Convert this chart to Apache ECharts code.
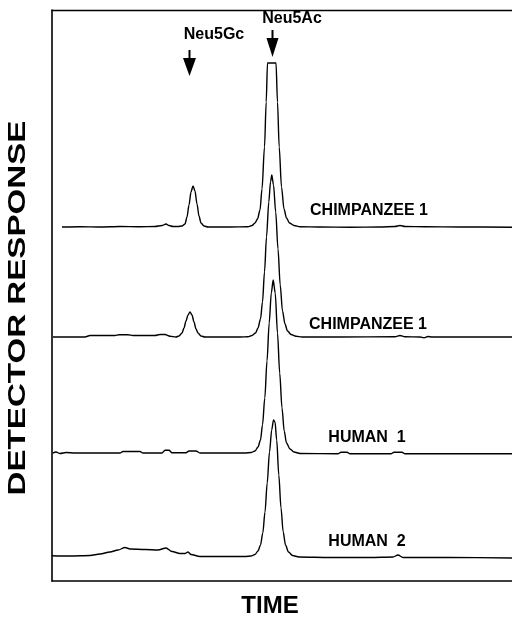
<!DOCTYPE html>
<html>
<head>
<meta charset="utf-8">
<script src="https://cdn.jsdelivr.net/npm/echarts@6/dist/echarts.min.js"></script>
<style>
  html, body { margin: 0; padding: 0; background: #fff; }
  #chart { width: 512px; height: 618px; }
</style>
</head>
<body>
<div id="chart"></div>
<script>
// 色谱图：时间 (t) / 检测器响应 (r)，四条叠放的曲线
const traceNames = ["CHIMPANZEE 1", "CHIMPANZEE 1", "HUMAN  1", "HUMAN  2"];

const chimp1a = [
  [1.0, 35.4], [2.8, 35.43], [4.8, 35.4], [6.8, 35.45], [8.8, 35.42], [10.3, 35.45],
  [11.0, 35.55], [11.4, 35.7], [11.7, 35.55], [12.1, 35.45], [12.6, 35.45], [13.0, 35.5],
  [13.3, 35.7], [13.5, 36.4], [13.7, 37.6], [13.9, 38.9], [14.1, 39.5], [14.3, 39.0],
  [14.5, 37.7], [14.7, 36.5], [14.9, 35.8], [15.2, 35.5], [15.6, 35.4], [17.8, 35.4],
  [19.6, 35.43], [20.0, 35.55], [20.3, 35.8], [20.55, 36.2], [20.8, 37.1], [21.0, 39.2],
  [21.25, 43.4], [21.42, 47.9], [21.55, 51.8], [22.4, 51.8], [22.55, 47.9], [22.72, 43.4],
  [22.95, 39.4], [23.2, 37.2], [23.45, 36.3], [23.75, 35.8], [24.2, 35.55], [24.8, 35.43],
  [26.8, 35.4], [29.8, 35.38], [32.8, 35.4], [34.3, 35.45], [34.8, 35.55], [35.3, 35.45],
  [37.3, 35.43], [40.8, 35.4], [46.0, 35.38]
];

const chimp1b = [
  [0.1, 24.4], [3.3, 24.4], [3.8, 24.55], [6.3, 24.55], [6.7, 24.63], [7.6, 24.63],
  [8.1, 24.55], [10.3, 24.55], [10.8, 24.65], [11.3, 24.65], [11.8, 24.48], [12.4, 24.4],
  [12.7, 24.5], [13.0, 24.8], [13.2, 25.3], [13.4, 26.0], [13.6, 26.6], [13.8, 26.9],
  [14.0, 26.6], [14.2, 25.9], [14.4, 25.2], [14.6, 24.8], [14.9, 24.5], [15.3, 24.4],
  [18.8, 24.4], [19.6, 24.43], [20.0, 24.55], [20.35, 24.8], [20.6, 25.3], [20.85, 26.2],
  [21.05, 27.9], [21.25, 30.9], [21.45, 34.4], [21.68, 37.9], [21.85, 39.9], [21.98, 40.6],
  [22.15, 39.6], [22.37, 36.9], [22.6, 33.2], [22.82, 29.6], [23.05, 27.0], [23.3, 25.7],
  [23.55, 25.0], [23.9, 24.65], [24.4, 24.48], [25.0, 24.4], [28.8, 24.4], [34.3, 24.43],
  [34.8, 24.55], [35.3, 24.43], [36.8, 24.4], [37.2, 24.32], [37.6, 24.45], [38.0, 24.4],
  [46.0, 24.4]
];

const human1 = [
  [0.1, 12.8], [0.4, 12.9], [0.8, 12.75], [1.4, 12.85], [2.3, 12.8], [6.8, 12.8],
  [7.1, 12.95], [8.8, 12.95], [9.1, 12.8], [11.0, 12.8], [11.3, 13.08], [11.7, 13.08],
  [12.0, 12.83], [13.4, 12.83], [13.7, 13.0], [14.4, 13.0], [14.8, 12.8], [19.3, 12.8],
  [19.9, 12.85], [20.3, 13.0], [20.6, 13.4], [20.85, 14.1], [21.05, 15.6], [21.28, 18.3],
  [21.5, 22.0], [21.72, 25.8], [21.93, 28.8], [22.12, 30.1], [22.32, 28.8], [22.55, 24.8],
  [22.77, 20.8], [23.0, 17.3], [23.22, 15.0], [23.45, 13.8], [23.8, 13.2], [24.2, 12.9],
  [24.8, 12.75], [28.6, 12.72], [28.9, 12.88], [29.5, 12.88], [29.8, 12.72], [33.9, 12.72],
  [34.2, 12.88], [35.0, 12.88], [35.3, 12.72], [46.0, 12.72]
];

const human2 = [
  [0.0, 2.53], [1.8, 2.5], [3.8, 2.55], [4.8, 2.7], [5.8, 2.9], [6.6, 3.1], [7.3, 3.35],
  [7.8, 3.2], [9.3, 3.15], [10.6, 3.1], [11.4, 3.3], [12.0, 2.95], [12.8, 2.75],
  [13.3, 2.75], [13.6, 2.9], [13.9, 2.65], [14.8, 2.45], [19.3, 2.45], [19.9, 2.5],
  [20.3, 2.65], [20.6, 3.0], [20.85, 3.6], [21.08, 4.8], [21.3, 6.9], [21.52, 9.8],
  [21.75, 12.9], [21.97, 15.1], [22.15, 16.1], [22.3, 15.9], [22.47, 14.1], [22.68, 10.6],
  [22.9, 7.3], [23.12, 4.9], [23.35, 3.6], [23.65, 2.9], [24.05, 2.55], [24.7, 2.4],
  [27.8, 2.35], [31.8, 2.35], [34.1, 2.4], [34.6, 2.6], [35.1, 2.35], [39.8, 2.35],
  [46.0, 2.3]
];

const traces = [chimp1a, chimp1b, human1, human2];

const chart = echarts.init(document.getElementById("chart"));
const FONT = '"Liberation Sans", Arial, Helvetica, sans-serif';

chart.setOption({
  animation: false,
  backgroundColor: "#fff",
  grid: { left: 52, right: 0, top: 10, bottom: 37 },
  xAxis: [
    {
      type: "value",
      min: 0,
      max: 46,
      axisLine: { show: true, lineStyle: { color: "#000", width: 1.6 } },
      axisTick: { show: false },
      axisLabel: { show: false },
      splitLine: { show: false },
    },
    {
      type: "value",
      position: "top",
      min: 0,
      max: 46,
      axisLine: { show: true, lineStyle: { color: "#000", width: 1.4 } },
      axisTick: { show: false },
      axisLabel: { show: false },
      splitLine: { show: false },
    },
  ],
  yAxis: {
    type: "value",
    min: 0,
    max: 57.1,
    axisLine: { show: true, lineStyle: { color: "#000", width: 1.6 } },
    axisTick: { show: false },
    axisLabel: { show: false },
    splitLine: { show: false },
  },
  series: traces.map((d, i) => ({
    name: traceNames[i] + i,
    type: "line",
    data: d,
    showSymbol: false,
    smooth: 0.3,
    smoothMonotone: "x",
    lineStyle: { color: "#000", width: 1.4 },
  })),
  graphic: [
    // 峰标记
    { type: "text", x: 214, y: 35, style: { text: "Neu5Gc", font: "bold 16px " + FONT, fill: "#000", align: "center", verticalAlign: "middle" } },
    { type: "line", shape: { x1: 189.5, y1: 50, x2: 189.5, y2: 60 }, style: { stroke: "#000", lineWidth: 2 } },
    { type: "polygon", shape: { points: [[183, 58], [196, 58], [189.5, 76]] }, style: { fill: "#000" } },
    { type: "text", x: 292, y: 19, style: { text: "Neu5Ac", font: "bold 16px " + FONT, fill: "#000", align: "center", verticalAlign: "middle" } },
    { type: "line", shape: { x1: 272.5, y1: 30, x2: 272.5, y2: 40 }, style: { stroke: "#000", lineWidth: 2 } },
    { type: "polygon", shape: { points: [[266.5, 38], [278.5, 38], [272.5, 57]] }, style: { fill: "#000" } },
    // 曲线名称
    { type: "text", x: 369, y: 211, style: { text: traceNames[0], font: "bold 16px " + FONT, fill: "#000", align: "center", verticalAlign: "middle" } },
    { type: "text", x: 368, y: 325, style: { text: traceNames[1], font: "bold 16px " + FONT, fill: "#000", align: "center", verticalAlign: "middle" } },
    { type: "text", x: 367, y: 438, style: { text: traceNames[2], font: "bold 16px " + FONT, fill: "#000", align: "center", verticalAlign: "middle" } },
    { type: "text", x: 367, y: 542, style: { text: traceNames[3], font: "bold 16px " + FONT, fill: "#000", align: "center", verticalAlign: "middle" } },
    // 坐标轴标题
    { type: "text", x: 270, y: 606, style: { text: "TIME", font: "bold 24px " + FONT, fill: "#000", align: "center", verticalAlign: "middle" } },
    { type: "text", x: 18, y: 308, rotation: Math.PI / 2, scaleX: 1.38, style: { text: "DETECTOR RESPONSE", font: "bold 24px " + FONT, fill: "#000", align: "center", verticalAlign: "middle" } },
  ],
});
</script>
</body>
</html>
